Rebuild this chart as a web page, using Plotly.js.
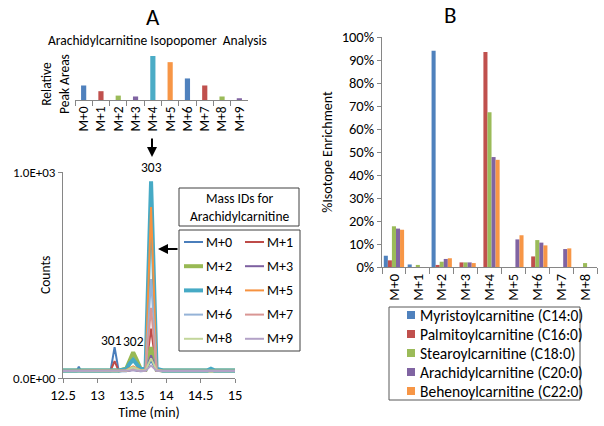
<!DOCTYPE html>
<html><head><meta charset="utf-8">
<script src="https://cdn.plot.ly/plotly-3.0.1.min.js"></script>
<style>html,body{margin:0;padding:0;background:#fff}#chart{width:604px;height:426px}</style>
</head><body><div id="chart"></div>
<script>
// ---------- Panel A (top): isopopomer relative peak areas ----------
const isoLabels = ['M+0','M+1','M+2','M+3','M+4','M+5','M+6','M+7','M+8','M+9'];
const isoRelArea = [0.33, 0.20, 0.10, 0.08, 1.00, 0.86, 0.49, 0.33, 0.08, 0.04];
const isoBarColors = ['#4f81bd','#c0504d','#9bbb59','#8064a2','#4bacc6','#f79646','#4f81bd','#c0504d','#9bbb59','#8064a2'];

// ---------- Panel A (bottom): chromatogram (Counts vs Time) ----------
const timeMin = [12.50,12.70,12.73,12.76,13.00,13.19,13.25,13.31,13.42,13.47,13.52,13.57,13.63,13.70,13.78,13.86,13.95,14.60,14.65,14.70,15.00];
const countsM0 = [33,33,55,33,33,33,150,33,33,35,40,35,33,35,85,35,33,33,33,33,33];
const countsM1 = [34,34,34,34,34,34,82,34,34,38,46,38,34,35,240,35,34,34,34,34,34];
const countsM2 = [36,36,36,36,36,36,40,36,46,92,125,90,44,40,150,40,36,36,36,36,36];
const countsM3 = [34,34,34,34,34,34,34,34,34,37,42,37,34,35,110,35,34,34,34,34,34];
const countsM4 = [37,37,38,37,37,37,38,37,42,70,88,68,42,45,955,45,37,37,45,37,37];
const countsM5 = [35,35,35,35,35,35,36,35,38,48,56,48,38,40,830,40,35,35,35,35,35];
const countsM6 = [34,34,34,34,34,34,35,34,35,40,45,40,35,38,480,38,34,34,34,34,34];
const countsM7 = [34,34,34,34,34,34,35,34,34,38,42,38,34,36,340,36,34,34,34,34,34];
const countsM8 = [35,35,35,35,35,35,35,35,36,45,52,45,36,37,95,37,35,35,35,35,35];
const countsM9 = [34,34,34,34,34,34,34,34,34,36,38,36,34,35,60,35,34,34,34,34,34];
const chromSeries = [countsM0,countsM1,countsM2,countsM3,countsM4,countsM5,countsM6,countsM7,countsM8,countsM9];
const chromColors = ['#4a7ebb','#be4b48','#98b954','#7d60a0','#46aac5','#f69240','#95b3d7','#d99694','#c3d69b','#b3a2c7'];
const chromWidths = [2,2,4,2,4,2,2,2,2,2];
const peakLabels = ['301','302','303'];
const peakLabelTimes = [13.20, 13.53, 13.78];

// ---------- Panel B: % isotope enrichment ----------
const massCats = ['M+0','M+1','M+2','M+3','M+4','M+5','M+6','M+7','M+8'];
const acylNames = ['Myristoylcarnitine (C14:0)','Palmitoylcarnitine (C16:0)','Stearoylcarnitine (C18:0)','Arachidylcarnitine (C20:0)','Behenoylcarnitine (C22:0)'];
const myristoyl   = [0.049, 0.011, 0.940, 0.000, 0.000, 0.000, 0.000, 0.000, 0.000];
const palmitoyl   = [0.029, 0.000, 0.009, 0.020, 0.935, 0.000, 0.046, 0.000, 0.000];
const stearoyl    = [0.177, 0.009, 0.023, 0.020, 0.673, 0.000, 0.117, 0.000, 0.017];
const arachidyl   = [0.167, 0.000, 0.035, 0.020, 0.478, 0.120, 0.106, 0.078, 0.000];
const behenoyl    = [0.162, 0.000, 0.038, 0.017, 0.466, 0.138, 0.094, 0.081, 0.000];
const acylSeries = [myristoyl, palmitoyl, stearoyl, arachidyl, behenoyl];
const acylColors = ['#4f81bd','#c0504d','#9bbb59','#8064a2','#f79646'];

// ---------- helpers ----------
const W = 604, H = 426;
const FONT = 'Carlito, Lato, "Open Sans", sans-serif';
const px = x => x / W;
const py = y => 1 - y / H;
const AX = '#868686';

const traces = [];
traces.push({type:'bar', x: isoLabels, y: isoRelArea, xaxis:'x', yaxis:'y', width:0.3,
  marker:{color: isoBarColors}, showlegend:false, hoverinfo:'x+y'});
chromSeries.forEach((s,i) => traces.push({type:'scatter', mode:'lines', x: timeMin, y: s,
  xaxis:'x2', yaxis:'y2', name: isoLabels[i], line:{color: chromColors[i], width: chromWidths[i]},
  showlegend:false}));
acylSeries.forEach((s,i) => traces.push({type:'bar', x: massCats, y: s, xaxis:'x3', yaxis:'y3',
  name: acylNames[i], marker:{color: acylColors[i]}, showlegend:false}));

const tickF = s => ({family: FONT, size: s, color: '#000'});
const txt = (text, x, y, size, extra) => Object.assign({text, x:px(x), y:py(y), xref:'paper', yref:'paper',
  xanchor:'center', yanchor:'middle', showarrow:false, font:tickF(size)}, extra || {});
const annotations = [
  txt('A', 153, 17, 23),
  txt('B', 450, 15, 23),
  txt('Arachidylcarnitine Isopopomer  Analysis', 157, 40, 13.5),
  txt('Relative<br>Peak Areas', 56, 84, 13.5, {textangle:-90}),
  txt('Counts', 45, 275, 13.5, {textangle:-90}),
  txt('Mass IDs for<br>Arachidylcarnitine', 239, 207, 13.5),
  // arrows
  {text:'', x:px(152), y:py(157), xref:'paper', yref:'paper', showarrow:true, ax:0, ay:-20, arrowhead:2, arrowsize:1, arrowwidth:2, arrowcolor:'#000'},
  {text:'', x:px(158), y:py(249), xref:'paper', yref:'paper', showarrow:true, ax:21, ay:0, arrowhead:2, arrowsize:1, arrowwidth:2, arrowcolor:'#000'}
];
// peak labels
const peakYpx = [340, 341, 168];
peakLabels.forEach((t,i) => annotations.push({text:t, x:peakLabelTimes[i], xref:'x2', y:py(peakYpx[i]), yref:'paper',
  xanchor:'center', yanchor:'middle', showarrow:false, font:tickF(13.5)}));

// manual legend for chromatogram (two columns)
const shapes = [
  {type:'rect', xref:'paper', yref:'paper', x0:px(179), x1:px(299), y0:py(226), y1:py(188), line:{color:'#404040', width:1}, fillcolor:'#fff'},
  {type:'rect', xref:'paper', yref:'paper', x0:px(179), x1:px(300), y0:py(351), y1:py(230), line:{color:'#404040', width:1}, fillcolor:'#fff'},
  {type:'rect', xref:'paper', yref:'paper', x0:px(389), x1:px(580), y0:py(400), y1:py(307), line:{color:'#595959', width:1}, fillcolor:'#fff'}
];
isoLabels.forEach((lab,i) => {
  const col = i % 2, row = Math.floor(i / 2);
  const x0 = 184 + col * 61, yy = 242 + row * 24.2;
  shapes.push({type:'line', xref:'paper', yref:'paper', x0:px(x0), x1:px(x0+19), y0:py(yy), y1:py(yy),
    line:{color: chromColors[i], width: chromWidths[i]}});
  annotations.push(txt(lab, x0+20, yy, 14, {xanchor:'left'}));
});
// manual legend for panel B
acylNames.forEach((nm,i) => {
  const yy = 315 + i * 19;
  shapes.push({type:'rect', xref:'paper', yref:'paper', x0:px(407), x1:px(415), y0:py(yy+4), y1:py(yy-4),
    line:{width:0}, fillcolor: acylColors[i]});
  annotations.push(txt(nm, 418, yy, 15.5, {xanchor:'left'}));
});

const layout = {
  width: W, height: H, margin:{l:0, r:0, t:0, b:0}, paper_bgcolor:'#fff', plot_bgcolor:'rgba(0,0,0,0)',
  font:{family: FONT, color:'#000'},
  barmode:'group', bargap:0.15, bargroupgap:0,
  xaxis:{domain:[px(75), px(248)], anchor:'y', type:'category', showline:true, linecolor:AX, ticks:'outside',
    tickson:'boundaries', ticklen:5, tickcolor:AX, tickangle:-90, tickfont:tickF(13.5), showgrid:false, fixedrange:true},
  yaxis:{domain:[py(100), py(56)], anchor:'x', range:[0,1], visible:false, fixedrange:true},
  xaxis2:{domain:[px(63), px(235)], anchor:'y2', range:[12.5,15], tickvals:[12.5,13,13.5,14,14.5,15],
    showline:true, linecolor:AX, ticks:'outside', ticklen:4, tickcolor:AX, tickfont:tickF(14.5), showgrid:false, zeroline:false,
    title:{text:'Time (min)', font:tickF(14), standoff:2}, fixedrange:true},
  yaxis2:{domain:[py(378), py(172)], anchor:'x2', range:[0,1000], tickvals:[0,1000], ticktext:['0.0E+00','1.0E+03'],
    showline:true, linecolor:AX, ticks:'outside', ticklen:4, tickcolor:AX, tickfont:tickF(13), showgrid:false, zeroline:false, fixedrange:true},
  xaxis3:{domain:[px(382), px(597)], anchor:'y3', type:'category', showline:true, linecolor:AX, ticks:'outside',
    tickson:'boundaries', ticklen:6, tickcolor:AX, tickangle:-90, tickfont:tickF(14.5), showgrid:false, fixedrange:true},
  yaxis3:{domain:[py(267), py(37)], anchor:'x3', range:[0,1], dtick:0.1, tickformat:'.0%', showline:true, linecolor:AX,
    ticks:'outside', ticklen:4, tickcolor:AX, tickfont:tickF(14.5), showgrid:false, zeroline:false,
    title:{text:'%Isotope Enrichment', font:tickF(14), standoff:5}, fixedrange:true},
  showlegend:false,
  shapes: shapes, annotations: annotations
};
Plotly.newPlot('chart', traces, layout, {staticPlot:true});
</script></body></html>
